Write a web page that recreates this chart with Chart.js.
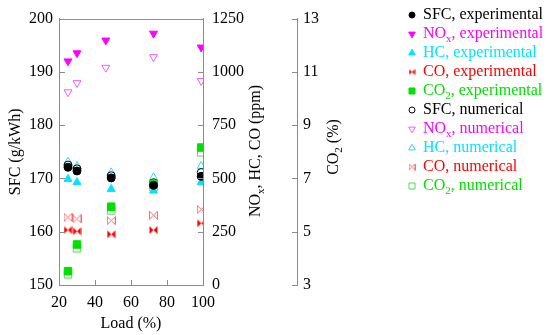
<!DOCTYPE html>
<html>
<head>
<meta charset="utf-8">
<script src="https://cdn.jsdelivr.net/npm/chart.js@4"></script>
<style>
  html, body { margin: 0; padding: 0; background: #fff; }
</style>
</head>
<body>
<canvas id="myChart" width="550" height="335"></canvas>
<script>
// load (%) positions
const loads = [25, 30, 49, 72.5, 99];
const noxLoads = [25, 30, 46, 72.5, 99];

// experimental
const sfcExp = [172.1, 171.4, 170.1, 168.7, 170.4];
const noxExp = [1050, 1088, 1148, 1180, 1115];
const hcExp = [497, 482, 450, 442, 482];
const coExp = [258, 252, 238, 258, 290];
const co2Exp = [3.52, 4.52, 5.94, 6.8, 8.16];

// numerical
const sfcNum = [172.5, 171.8, 170.5, 169.2, 171.1];
const noxNum = [905, 948, 1020, 1070, 958];
const hcNum = [578, 558, 528, 505, 558];
const coNum = [318, 310, 302, 328, 355];
const co2Num = [3.4, 4.38, 5.8, 6.68, 7.98];

const FONT = "'Liberation Serif', 'Times New Roman', 'Nimbus Roman', 'DejaVu Serif', serif";
const GRAY = "#8c8c8c";

const MAGENTA = "#ff00ff";
const CYAN = "#00e5ff";
const RED = "#ff0000";
const GREEN = "#00e000";

function bowtie(color, filled, size) {
  const c = document.createElement("canvas");
  c.width = size;
  c.height = size;
  const g = c.getContext("2d");
  const s = size;
  g.beginPath();
  g.moveTo(0.5, 0.5);
  g.lineTo(s / 2, s / 2);
  g.lineTo(0.5, s - 0.5);
  g.closePath();
  g.moveTo(s - 0.5, 0.5);
  g.lineTo(s / 2, s / 2);
  g.lineTo(s - 0.5, s - 0.5);
  g.closePath();
  if (filled) {
    g.fillStyle = color;
    g.fill();
  } else {
    g.strokeStyle = color;
    g.lineWidth = 1;
    g.stroke();
  }
  return c;
}

const pts = (xs, ys) => xs.map((x, i) => ({ x: x, y: ys[i] }));

const datasets = [
  { label: "SFC, experimental", data: pts(loads, sfcExp), yAxisID: "y",
    pointStyle: "circle", pointRadius: 4, backgroundColor: "#000", borderColor: "#000", borderWidth: 1,
    textColor: "#000", legendStyle: "circle" },
  { label: "NO_x, experimental", data: pts(noxLoads, noxExp), yAxisID: "y1",
    pointStyle: "triangle", rotation: 180, pointRadius: 4.6, backgroundColor: MAGENTA, borderColor: MAGENTA, borderWidth: 1,
    textColor: MAGENTA, legendStyle: "triangle" },
  { label: "HC, experimental", data: pts(loads, hcExp), yAxisID: "y1",
    pointStyle: "triangle", pointRadius: 4.6, backgroundColor: CYAN, borderColor: CYAN, borderWidth: 1,
    textColor: CYAN, legendStyle: "triangle" },
  { label: "CO, experimental", data: pts(loads, coExp), yAxisID: "y1",
    pointStyle: bowtie(RED, true, 9), backgroundColor: RED, borderColor: RED,
    textColor: RED, legendStyle: bowtie(RED, true, 7) },
  { label: "CO_2, experimental", data: pts(loads, co2Exp), yAxisID: "y2",
    pointStyle: "rect", pointRadius: 5.3, backgroundColor: GREEN, borderColor: GREEN, borderWidth: 1,
    textColor: GREEN, legendStyle: "rect" },
  { label: "SFC, numerical", data: pts(loads, sfcNum), yAxisID: "y",
    pointStyle: "circle", pointRadius: 4, backgroundColor: "rgba(0,0,0,0)", borderColor: "#000", borderWidth: 1,
    textColor: "#000", legendStyle: "circle" },
  { label: "NO_x, numerical", data: pts(noxLoads, noxNum), yAxisID: "y1",
    pointStyle: "triangle", rotation: 180, pointRadius: 4.6, backgroundColor: "rgba(0,0,0,0)", borderColor: "#f060f0", borderWidth: 1,
    textColor: MAGENTA, legendStyle: "triangle" },
  { label: "HC, numerical", data: pts(loads, hcNum), yAxisID: "y1",
    pointStyle: "triangle", pointRadius: 4.6, backgroundColor: "rgba(0,0,0,0)", borderColor: "#30d8f0", borderWidth: 1,
    textColor: CYAN, legendStyle: "triangle" },
  { label: "CO, numerical", data: pts(loads, coNum), yAxisID: "y1",
    pointStyle: bowtie("#ff6a6a", false, 9), backgroundColor: "rgba(0,0,0,0)", borderColor: "#ff6a6a",
    textColor: RED, legendStyle: bowtie("#ff6a6a", false, 7) },
  { label: "CO_2, numerical", data: pts(loads, co2Num), yAxisID: "y2",
    pointStyle: "rect", pointRadius: 5.3, backgroundColor: "rgba(0,0,0,0)", borderColor: "#50dc50", borderWidth: 1,
    textColor: GREEN, legendStyle: "rect" },
];
datasets.forEach(d => { d.showLine = false; d.pointHoverRadius = d.pointRadius; });

// text with "_c" meaning subscript c
function richText(ctx, str, x, y, size) {
  const parts = [];
  let i = 0;
  let buf = "";
  while (i < str.length) {
    if (str[i] === "_" && i + 1 < str.length) {
      if (buf) parts.push({ t: buf, sub: false });
      parts.push({ t: str[i + 1], sub: true });
      buf = "";
      i += 2;
    } else {
      buf += str[i];
      i++;
    }
  }
  if (buf) parts.push({ t: buf, sub: false });
  const subSize = Math.round(size * 0.7);
  let w = 0;
  parts.forEach(p => {
    ctx.font = (p.sub ? subSize : size) + "px " + FONT;
    p.w = ctx.measureText(p.t).width;
    w += p.w;
  });
  return {
    width: w,
    draw(cx) {
      let px = cx;
      parts.forEach(p => {
        ctx.font = (p.sub ? subSize : size) + "px " + FONT;
        ctx.fillText(p.t, px, y + (p.sub ? size * 0.3 : 0));
        px += p.w;
      });
    },
  };
}

function drawMarker(ctx, style, r, rot, x, y, fill, stroke) {
  if (typeof style === "object") {
    ctx.drawImage(style, x - style.width / 2, y - style.height / 2);
    return;
  }
  ctx.beginPath();
  if (style === "circle") {
    ctx.arc(x, y, r, 0, Math.PI * 2);
  } else if (style === "rect") {
    ctx.rect(x - r, y - r, 2 * r, 2 * r);
  } else if (style === "triangle") {
    const a = (rot || 0) * Math.PI / 180;
    for (let k = 0; k < 3; k++) {
      const t = a + k * 2 * Math.PI / 3;
      const px = x + Math.sin(t) * r;
      const py = y - Math.cos(t) * r;
      if (k === 0) ctx.moveTo(px, py); else ctx.lineTo(px, py);
    }
    ctx.closePath();
  }
  ctx.fillStyle = fill;
  ctx.fill();
  ctx.strokeStyle = stroke;
  ctx.lineWidth = 1;
  ctx.stroke();
}

const extras = {
  id: "extras",
  afterDraw(chart) {
    const ctx = chart.ctx;
    const ca = chart.chartArea;
    const s = chart.scales;
    ctx.save();
    ctx.strokeStyle = GRAY;
    ctx.lineWidth = 1;
    // top frame line
    ctx.beginPath();
    ctx.moveTo(ca.left, Math.round(ca.top) + 0.5);
    ctx.lineTo(ca.right, Math.round(ca.top) + 0.5);
    ctx.stroke();
    // inward tick marks
    ctx.beginPath();
    s.x.ticks.forEach(t => {
      const px = Math.round(s.x.getPixelForValue(t.value)) + 0.5;
      ctx.moveTo(px, ca.bottom);
      ctx.lineTo(px, ca.bottom - 5);
    });
    s.y.ticks.forEach(t => {
      const py = Math.round(s.y.getPixelForValue(t.value)) + 0.5;
      ctx.moveTo(ca.left, py);
      ctx.lineTo(ca.left + 6, py);
    });
    s.y1.ticks.forEach(t => {
      const py = Math.round(s.y1.getPixelForValue(t.value)) + 0.5;
      ctx.moveTo(ca.right, py);
      ctx.lineTo(ca.right - 5, py);
    });
    s.y2.ticks.forEach(t => {
      const py = Math.round(s.y2.getPixelForValue(t.value)) + 0.5;
      ctx.moveTo(s.y2.left, py);
      ctx.lineTo(s.y2.left - 5, py);
    });
    ctx.stroke();

    // right axis titles, reading bottom to top
    ctx.fillStyle = "#000";
    ctx.textBaseline = "middle";
    ctx.textAlign = "left";
    const titles = [
      { text: "NO_x, HC, CO (ppm)", x: 256, y: 151 },
      { text: "CO_2 (%)", x: 334, y: 147 },
    ];
    titles.forEach(tt => {
      ctx.save();
      ctx.translate(tt.x, tt.y);
      ctx.rotate(-Math.PI / 2);
      const rt = richText(ctx, tt.text, 0, 0, 16);
      rt.draw(-rt.width / 2);
      ctx.restore();
    });

    // legend
    datasets.forEach((d, i) => {
      const y = 15 + i * 19;
      let r = 3;
      if (d.legendStyle === "triangle") r = 3.8;
      drawMarker(ctx, d.legendStyle, r, d.rotation, 412, y, d.backgroundColor, d.borderColor);
      ctx.fillStyle = d.textColor;
      ctx.textBaseline = "middle";
      const rt = richText(ctx, d.label, 0, y, 16);
      rt.draw(423);
    });
    ctx.restore();
  },
};

const tickFont = { family: FONT, size: 16 };
const plain = v => String(v);

const config = {
  type: "scatter",
  data: { datasets: datasets },
  options: {
    responsive: false,
    animation: false,
    layout: { padding: { top: 16, right: 205, left: 0, bottom: 0 } },
    plugins: { legend: { display: false }, tooltip: { enabled: false } },
    scales: {
      x: {
        type: "linear", min: 20, max: 100,
        ticks: { stepSize: 20, font: tickFont, color: "#000", padding: 8, callback: plain },
        grid: { display: false, drawTicks: false },
        border: { color: GRAY },
        title: { display: true, text: "Load (%)", font: tickFont, color: "#000", padding: { top: 0, bottom: 2 } },
        afterFit(scale) { scale.height = 50; },
      },
      y: {
        position: "left", min: 150, max: 200,
        ticks: { stepSize: 10, font: tickFont, color: "#000", padding: 6, callback: plain },
        grid: { display: false, drawTicks: false },
        border: { color: GRAY },
        title: { display: true, text: "SFC (g/kWh)", font: tickFont, color: "#000", padding: { top: 6, bottom: 0 } },
        afterFit(scale) { scale.width = 59; },
      },
      y1: {
        position: "right", min: 0, max: 1250,
        ticks: { stepSize: 250, font: tickFont, color: "#000", padding: 9, callback: plain },
        grid: { display: false, drawTicks: false },
        border: { color: GRAY },
        afterFit(scale) { scale.width = 94; },
      },
      y2: {
        position: "right", min: 3, max: 13,
        ticks: { stepSize: 2, font: tickFont, color: "#000", padding: 6, callback: plain },
        grid: { display: false, drawTicks: false },
        border: { color: GRAY },
        afterFit(scale) { scale.width = 48; },
      },
    },
  },
  plugins: [extras],
};

const myChart = new Chart(document.getElementById("myChart").getContext("2d"), config);
</script>
</body>
</html>
